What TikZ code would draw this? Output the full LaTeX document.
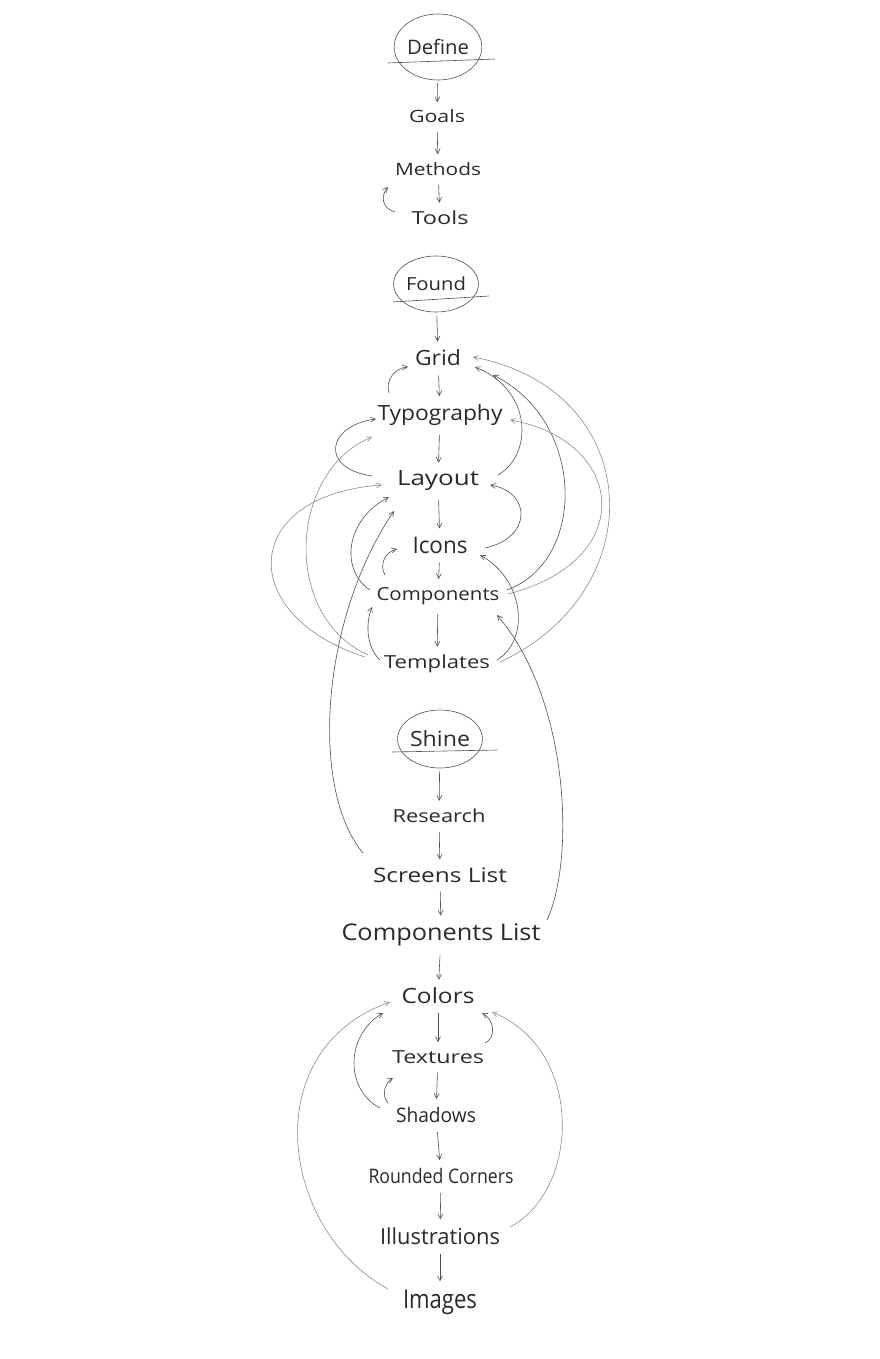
\documentclass[tikz,border=0pt]{standalone}
\usepackage{fontspec}
\setmainfont{Open Sans}
\usepackage{graphicx}
\usetikzlibrary{arrows.meta,shapes.geometric,calc}
\definecolor{ink}{HTML}{2A2A2A}
\definecolor{ink2}{HTML}{505050}
\definecolor{lite}{HTML}{8C8C8C}
\newcommand{\tl}[3]{{\fontsize{#1pt}{#1pt}\selectfont\resizebox{#2pt}{\height}{#3}}}
\begin{document}
\begin{tikzpicture}[x=1pt,y=-1pt,
  lbl/.style={inner sep=2pt,text=ink},
  circ/.style={ellipse,draw=ink2,line width=0.6pt,inner sep=0pt,text=ink},
  uline/.style={draw=ink2,line width=0.6pt},
  arr/.style={draw=ink2,line width=0.6pt,-{Straight Barb[length=5pt,width=5pt]}},
  varr/.style={arr,shorten <=7pt,shorten >=6pt},
  faint/.style={arr,draw=lite}]
\path[fill=white] (0,0) rectangle (880,1359);

% ---- Define section
\node[circ,minimum width=83pt,minimum height=66pt] (define) at (438,47) {\tl{20}{62}{Define}};
\node[lbl] (goals) at (437,116) {\tl{17}{56}{Goals}};
\node[lbl] (methods) at (438,169) {\tl{17}{86}{Methods}};
\node[lbl] (tools) at (440,218) {\tl{18}{57}{Tools}};
\draw[uline] ($(define)+(-50,16)$) -- ($(define)+(57,12)$);
\draw[arr,shorten <=3pt,shorten >=5pt] (define) -- (goals);
\draw[varr] (goals) -- (methods);
\draw[varr] (methods) -- (tools);
\draw[arr] ($(tools)+(-45,-6)$) .. controls (381,208) and (381,195) .. ($(methods)+(-50,18)$);

% ---- Found section
\node[circ,minimum width=80pt,minimum height=56pt] (found) at (436,284) {\tl{18}{60}{Found}};
\draw[uline] ($(found)+(-43,18)$) -- ($(found)+(53,12)$);
\node[lbl] (grid) at (438,358) {\tl{21}{46}{Grid}};
\node[lbl] (typo) at (440,415) {\tl{21}{125}{Typography}};
\node[lbl] (layout) at (438,481) {\tl{21}{82}{Layout}};
\node[lbl] (icons) at (440,545) {\tl{23}{55}{Icons}};
\node[lbl] (components) at (438,596) {\tl{18}{123}{Components}};
\node[lbl] (templates) at (437,664) {\tl{18}{106}{Templates}};
\draw[arr,shorten <=3pt,shorten >=6pt] (found) -- (grid);
\draw[varr] (grid) -- (typo);
\draw[varr] (typo) -- (layout);
\draw[varr] (layout) -- (icons);
\draw[varr] (icons) -- (components);
\draw[varr] (components) -- (templates);

\draw[arr] ($(typo)+(-51,-22)$) .. controls (385,380) and (395,368) .. ($(grid)+(-30,9)$);
\draw[arr] ($(layout)+(-66,-5)$) .. controls (318,468) and (328,425) .. ($(typo)+(-64,4)$);
\draw[faint] ($(templates)+(-69,-9)$) .. controls (280,615) and (290,470) .. ($(typo)+(-68,22)$);
\draw[faint] ($(templates)+(-72,-7)$) .. controls (235,615) and (240,495) .. ($(layout)+(-56,4)$);
\draw[arr] ($(components)+(-68,-6)$) .. controls (340,570) and (345,520) .. ($(layout)+(-49,16)$);
\draw[arr] ($(components)+(-53,-21)$) .. controls (379,565) and (385,552) .. ($(icons)+(-43,4)$);
\draw[arr] ($(templates)+(-57,-4)$) .. controls (367,648) and (365,625) .. ($(components)+(-66,11)$);
\draw[arr] ($(icons)+(45,3)$) .. controls (532,538) and (532,492) .. ($(layout)+(52,4)$);
\draw[arr] ($(layout)+(60,-6)$) .. controls (533,455) and (533,390) .. ($(grid)+(37,9)$);
\draw[arr] ($(components)+(69,-6)$) .. controls (588,560) and (585,420) .. ($(grid)+(55,17)$);
\draw[faint] ($(components)+(70,-2)$) .. controls (640,560) and (625,440) .. ($(typo)+(70,5)$);
\draw[faint] ($(templates)+(63,-2)$) .. controls (655,590) and (645,390) .. ($(grid)+(35,-1)$);
\draw[arr] ($(templates)+(60,-4)$) .. controls (530,640) and (525,580) .. ($(icons)+(40,10)$);

% ---- Shine section
\node[circ,minimum width=80pt,minimum height=58pt] (shine) at (440,739) {\tl{21}{60}{Shine}};
\draw[uline] ($(shine)+(-48,13)$) -- ($(shine)+(57,11)$);
\node[lbl] (research) at (439,816) {\tl{18}{93}{Research}};
\node[lbl] (screens) at (440,875) {\tl{20}{134}{Screens List}};
\node[lbl] (complist) at (441,935) {\tl{23}{199}{Components List}};
\node[lbl] (colors) at (438,996) {\tl{21}{73}{Colors}};
\node[lbl] (textures) at (438,1057) {\tl{18}{92}{Textures}};
\node[lbl] (shadows) at (436,1115) {\tl{20}{80}{Shadows}};
\node[lbl] (rounded) at (441,1176) {\tl{20}{145}{Rounded Corners}};
\node[lbl] (illus) at (440,1236) {\tl{22}{120}{Illustrations}};
\node[lbl] (images) at (440,1302) {\tl{26}{74}{Images}};
\draw[arr,shorten <=3pt,shorten >=6pt] (shine) -- (research);
\draw[varr] (research) -- (screens);
\draw[varr] (screens) -- (complist);
\draw[varr] (complist) -- (colors);
\draw[varr] (colors) -- (textures);
\draw[varr] (textures) -- (shadows);
\draw[varr] (shadows) -- (rounded);
\draw[varr] (rounded) -- (illus);
\draw[varr] (illus) -- (images);

\draw[arr] ($(screens)+(-77,-22)$) .. controls (310,790) and (320,620) .. ($(layout)+(-44,30)$);
\draw[arr] ($(complist)+(106,-15)$) .. controls (575,860) and (570,700) .. ($(components)+(59,19)$);

\draw[arr] ($(textures)+(47,-14)$) .. controls (496,1038) and (495,1020) .. ($(colors)+(44,17)$);
\draw[faint] ($(illus)+(70,-9)$) .. controls (580,1190) and (585,1050) .. ($(colors)+(54,16)$);
\draw[arr] ($(shadows)+(-56,-7)$) .. controls (345,1090) and (345,1035) .. ($(colors)+(-55,17)$);
\draw[faint] ($(images)+(-52,-13)$) .. controls (280,1230) and (255,1050) .. ($(colors)+(-48,6)$);
\draw[arr] ($(shadows)+(-48,-12)$) .. controls (381,1095) and (385,1083) .. ($(textures)+(-45,21)$);
\end{tikzpicture}
\end{document}
